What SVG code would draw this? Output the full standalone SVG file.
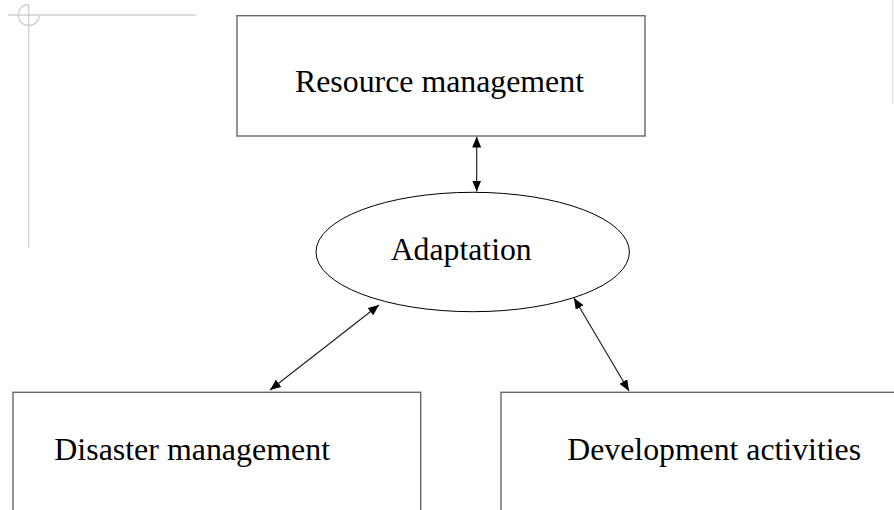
<svg xmlns="http://www.w3.org/2000/svg" width="894" height="510" viewBox="0 0 894 510">
<style>
.box{fill:#fff;stroke:#666;stroke-width:1.4}
.ell{fill:#fff;stroke:#000;stroke-width:1}
.lbl{font-family:"Liberation Serif","Times New Roman",serif;font-size:32px;fill:#000}
.con{stroke:#222;stroke-width:1.2;fill:none;marker-start:url(#ah);marker-end:url(#ah)}
.crop{stroke:#d0d0d0;stroke-width:1.3;fill:none}
</style>
<defs>
<marker id="ah" markerUnits="userSpaceOnUse" markerWidth="11" markerHeight="9" viewBox="0 0 11 9" refX="11" refY="4.5" orient="auto-start-reverse">
<path d="M0,0 L11,4.5 L0,9 z" fill="#000"/>
</marker>
</defs>
<g id="cropmarks">
<line class="crop" x1="8" y1="15" x2="196" y2="15"/>
<line class="crop" x1="28.7" y1="5" x2="28.7" y2="248"/>
<path class="crop" d="M28.7,4.5 A10.5,10.5 0 1 0 39.2,15"/>
<line x1="892.7" y1="0" x2="892.7" y2="104" stroke="#e2e2e2" stroke-width="1.3"/>
</g>
<g id="connectors">
<line class="con" x1="476.7" y1="136.5" x2="476.7" y2="191.5"/>
<line class="con" x1="379" y1="305" x2="270" y2="390"/>
<line class="con" x1="574" y1="298" x2="629" y2="391"/>
</g>
<g id="resource">
<rect class="box" x="237" y="15.7" width="408" height="120.3"/>
<text class="lbl" x="295" y="92" textLength="289" lengthAdjust="spacingAndGlyphs">Resource management</text>
</g>
<g id="adaptation">
<ellipse class="ell" cx="472.7" cy="252" rx="156.7" ry="59.7"/>
<text class="lbl" x="390.7" y="260" textLength="141" lengthAdjust="spacingAndGlyphs">Adaptation</text>
</g>
<g id="disaster">
<rect class="box" x="13" y="392.3" width="407.7" height="130"/>
<text class="lbl" x="54.3" y="460" textLength="275.7" lengthAdjust="spacingAndGlyphs">Disaster management</text>
</g>
<g id="development">
<rect class="box" x="501" y="392.3" width="400" height="130"/>
<text class="lbl" x="567.3" y="460" textLength="293.7" lengthAdjust="spacingAndGlyphs">Development activities</text>
</g>
</svg>
